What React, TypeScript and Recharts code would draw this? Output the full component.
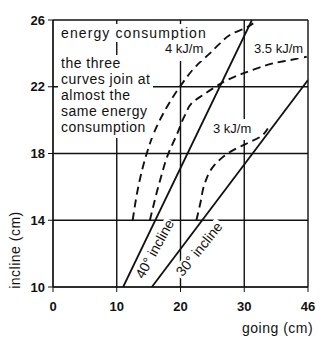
import { LineChart, Line, XAxis, YAxis, CartesianGrid } from 'recharts';

// going (cm) is plotted on 0..40; the last grid step is labelled 46 in the original
const xTicks = [0, 10, 20, 30, 40];
const xTickLabels = ['0', '10', '20', '30', '46'];
const yTicks = [10, 14, 18, 22, 26];

const incline40 = [
  { x: 11, y: 10 },
  { x: 31.2, y: 26 },
];
const incline30 = [
  { x: 15.5, y: 10 },
  { x: 40, y: 22.4 },
];

const energy4 = [
  { x: 12.5, y: 14 },
  { x: 13.6, y: 16.4 },
  { x: 14.7, y: 18 },
  { x: 15.9, y: 19.3 },
  { x: 17.3, y: 20.4 },
  { x: 19.9, y: 22 },
  { x: 22.6, y: 23.3 },
  { x: 24.6, y: 24 },
  { x: 26.2, y: 24.6 },
  { x: 28.2, y: 25.2 },
  { x: 30.1, y: 25.5 },
  { x: 31.4, y: 25.8 },
];
const energy35 = [
  { x: 15.2, y: 14 },
  { x: 16.8, y: 16.4 },
  { x: 18, y: 17.9 },
  { x: 19.5, y: 19.2 },
  { x: 20.7, y: 20.3 },
  { x: 22, y: 21.1 },
  { x: 23.5, y: 21.5 },
  { x: 25.1, y: 21.9 },
  { x: 27.3, y: 22.4 },
  { x: 29.8, y: 22.8 },
  { x: 32, y: 23.1 },
  { x: 34.5, y: 23.4 },
  { x: 37.2, y: 23.6 },
  { x: 39.8, y: 23.8 },
];
const energy3 = [
  { x: 22.5, y: 14 },
  { x: 23.1, y: 15 },
  { x: 23.8, y: 16.2 },
  { x: 25.1, y: 17.2 },
  { x: 26.7, y: 17.8 },
  { x: 27.8, y: 18.1 },
  { x: 30.4, y: 18.6 },
  { x: 32.5, y: 19.0 },
  { x: 33.7, y: 19.5 },
];

const font = '"Liberation Sans", Arial, sans-serif';

const note = (left: number, top: number, text: string, extra: any = {}) => (
  <div
    style={{
      position: 'absolute',
      left,
      top,
      background: '#fff',
      fontFamily: font,
      fontSize: 14,
      lineHeight: '16px',
      color: '#111',
      whiteSpace: 'pre',
      ...extra,
    }}
  >
    {text}
  </div>
);

export default function App() {
  return (
    <div style={{ position: 'absolute', left: 0, top: 0, width: 326, height: 349, background: '#fff' }}>
      <LineChart width={326} height={349} margin={{ top: 20, right: 18, bottom: 40, left: 0 }}>
        <CartesianGrid stroke='#111' strokeWidth={1.4} horizontalValues={yTicks} verticalValues={xTicks} />
        <XAxis
          type='number'
          dataKey='x'
          domain={[0, 40]}
          ticks={xTicks}
          tickFormatter={(v: number) => xTickLabels[xTicks.indexOf(v)]}
          height={22}
          tickSize={5}
          tickMargin={10}
          stroke='#111'
          tick={{ fill: '#111', fontFamily: font, fontSize: 13, fontWeight: 'bold' }}
          allowDataOverflow
        />
        <YAxis
          type='number'
          dataKey='y'
          domain={[10, 26]}
          ticks={yTicks}
          width={53}
          tickSize={5}
          tickMargin={3}
          stroke='#111'
          tick={{ fill: '#111', fontFamily: font, fontSize: 13, fontWeight: 'bold' }}
          allowDataOverflow
        />
        <Line data={incline40} dataKey='y' type='linear' stroke='#111' strokeWidth={1.8} dot={false} activeDot={false} isAnimationActive={false} />
        <Line data={incline30} dataKey='y' type='linear' stroke='#111' strokeWidth={1.8} dot={false} activeDot={false} isAnimationActive={false} />
        <Line data={energy4} dataKey='y' type='monotoneY' stroke='#111' strokeWidth={1.9} strokeDasharray='8 5' dot={false} activeDot={false} isAnimationActive={false} />
        <Line data={energy35} dataKey='y' type='monotoneY' stroke='#111' strokeWidth={1.9} strokeDasharray='8 5' dot={false} activeDot={false} isAnimationActive={false} />
        <Line data={energy3} dataKey='y' type='monotoneY' stroke='#111' strokeWidth={1.9} strokeDasharray='8 5' dot={false} activeDot={false} isAnimationActive={false} />
      </LineChart>

      {note(58, 24, 'energy consumption', { padding: '1px 3px', letterSpacing: 1.1 })}
      {note(58, 55, 'the three\ncurves join at\nalmost the\nsame energy\nconsumption', { padding: '0 3px 3px', letterSpacing: 0.5 })}
      {note(164, 40, '4 kJ/m', { fontSize: 13, padding: '1px 1px 4px' })}
      {note(253, 40, '3.5 kJ/m', { fontSize: 13, padding: '1px 1px' })}
      {note(212, 119, '3 kJ/m', { fontSize: 13, padding: '2px 1px 3px' })}

      <div style={{ position: 'absolute', left: 155, top: 249, transform: 'translate(-50%, -50%) rotate(-61deg)', fontFamily: font, fontSize: 14, color: '#111', whiteSpace: 'nowrap', background: '#fff', lineHeight: '13px' }}>
        40° incline
      </div>
      <div style={{ position: 'absolute', left: 199, top: 249, transform: 'translate(-50%, -50%) rotate(-51deg)', fontFamily: font, fontSize: 14, color: '#111', whiteSpace: 'nowrap', background: '#fff', lineHeight: '14px', padding: '0 2px' }}>
        30° incline
      </div>

      <div style={{ position: 'absolute', left: 242, top: 320, fontFamily: font, fontSize: 14, color: '#111', letterSpacing: 0.5 }}>going (cm)</div>
      <div style={{ position: 'absolute', left: 15, top: 250, transform: 'translate(-50%, -50%) rotate(-90deg)', fontFamily: font, fontSize: 14, color: '#111', whiteSpace: 'nowrap', letterSpacing: 0.5 }}>
        incline (cm)
      </div>
    </div>
  );
}
